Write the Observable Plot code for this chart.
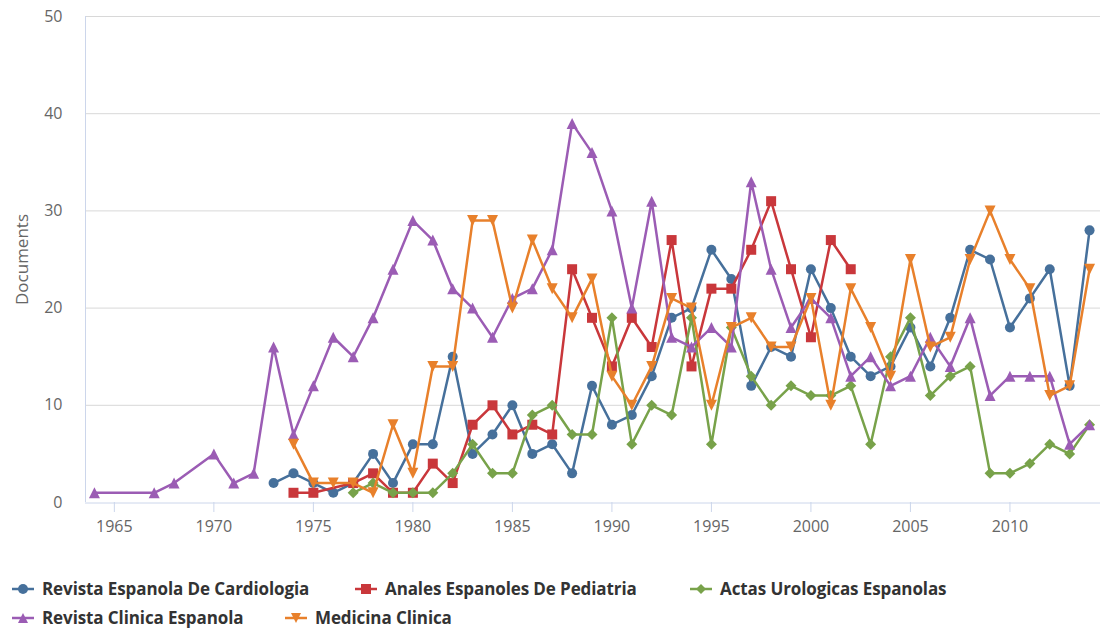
<!DOCTYPE html>
<html>
<head>
<meta charset="utf-8">
<script src="https://cdn.jsdelivr.net/npm/d3@7"></script>
<script src="https://cdn.jsdelivr.net/npm/@observablehq/plot@0.6"></script>
<style>
  body { margin: 0; background: #fff; font-family: "Open Sans", sans-serif; }
  #wrap { position: relative; width: 1103px; height: 628px; }
  #legend { position: absolute; left: 0; top: 0; width: 1103px; height: 620px; pointer-events: none; }
  .item { position: absolute; display: flex; align-items: center; font-weight: bold; font-size: 17px; line-height: 18px; color: #333; white-space: nowrap; letter-spacing: -0.1px; }
  .item svg { margin-right: 8px; }
</style>
</head>
<body>
<div id="wrap"><div id="chart"></div><div id="legend"></div></div>
<script>
const years = [1964,1965,1966,1967,1968,1969,1970,1971,1972,1973,
  1974,1975,1976,1977,1978,1979,1980,1981,1982,1983,
  1984,1985,1986,1987,1988,1989,1990,1991,1992,1993,
  1994,1995,1996,1997,1998,1999,2000,2001,2002,2003,
  2004,2005,2006,2007,2008,2009,2010,2011,2012,2013,2014];

const seriesNames = ["Revista Espanola De Cardiologia","Anales Espanoles De Pediatria","Actas Urologicas Espanolas","Revista Clinica Espanola","Medicina Clinica"];
const seriesColors = ["#46709b","#c9373b","#78a24a","#9b5cb4","#e8802b"];

const cardiologia = [null,null,null,null,null,null,null,null,null,2,
  3,2,1,2,5,2,6,6,15,5,
  7,10,5,6,3,12,8,9,13,19,
  20,26,23,12,16,15,24,20,15,13,
  14,18,14,19,26,25,18,21,24,12,28];
const pediatria = [null,null,null,null,null,null,null,null,null,null,
  1,1,null,2,3,1,1,4,2,8,
  10,7,8,7,24,19,14,19,16,27,
  14,22,22,26,31,24,17,27,24,null,
  null,null,null,null,null,null,null,null,null,null,null];
const urologicas = [null,null,null,null,null,null,null,null,null,null,
  null,null,null,1,2,1,1,1,3,6,
  3,3,9,10,7,7,19,6,10,9,
  19,6,18,13,10,12,11,11,12,6,
  15,19,11,13,14,3,3,4,6,5,8];
const clinicaEsp = [1,null,null,1,2,null,5,2,3,16,
  7,12,17,15,19,24,29,27,22,20,
  17,21,22,26,39,36,30,20,31,17,
  16,18,16,33,24,18,21,19,13,15,
  12,13,17,14,19,11,13,13,13,6,8];
const medicina = [null,null,null,null,null,null,null,null,null,null,
  6,2,2,2,1,8,3,14,14,29,
  29,20,27,22,19,23,13,10,14,21,
  20,10,18,19,16,16,21,10,22,18,
  13,25,16,17,25,30,25,22,11,12,24];

const xTicks = [1965,1970,1975,1980,1985,1990,1995,2000,2005,2010];
const yTicks = [0,10,20,30,40,50];

// Highcharts-like marker symbols
const symCircle = {draw(c, s){ const r = Math.sqrt(s/Math.PI); c.moveTo(r,0); c.arc(0,0,r,0,2*Math.PI); c.closePath(); }};
const symSquare = {draw(c, s){ const r = Math.sqrt(s/Math.PI); c.rect(-r,-r,2*r,2*r); }};
const symDiamond = {draw(c, s){ const r = Math.sqrt(s/Math.PI); c.moveTo(0,-r); c.lineTo(r,0); c.lineTo(0,r); c.lineTo(-r,0); c.closePath(); }};
const symTriUp = {draw(c, s){ const r = Math.sqrt(s/Math.PI); c.moveTo(0,-r); c.lineTo(r,r); c.lineTo(-r,r); c.closePath(); }};
const symTriDown = {draw(c, s){ const r = Math.sqrt(s/Math.PI); c.moveTo(-r,-r); c.lineTo(r,-r); c.lineTo(0,r); c.closePath(); }};

const allValues = [cardiologia, pediatria, urologicas, clinicaEsp, medicina];
const symbols = [symCircle, symSquare, symDiamond, symTriUp, symTriDown];
const radii = [5, 5, 5.5, 5.5, 5.5];

const tables = allValues.map(vals => years.map((y,i) => ({year: y, value: vals[i]})).filter(d => d.value != null));

const marks = [
  Plot.gridY(yTicks.filter(t => t > 0), {stroke: "#d8d8d8", strokeOpacity: 1}),
  Plot.ruleX([1963.55], {stroke: "#ccd6eb"}),
  Plot.ruleY([0], {stroke: "#ccd6eb", dy: 0.5}),
  Plot.axisX({ticks: xTicks, text: null, tickSize: 10, stroke: "#ccd6eb", label: null}),
  Plot.axisX({ticks: xTicks, tickFormat: d => String(d), tickSize: 0, tickPadding: 18, fill: "#666", fontSize: 16, label: null}),
  Plot.axisY({ticks: yTicks, tickSize: 0, tickPadding: 23, fill: "#666", fontSize: 16, label: null}),
  Plot.text(["Documents"], {frameAnchor: "left", textAnchor: "middle", dx: -63, rotate: -90, fill: "#666", fontSize: 17})
];
tables.forEach((t, k) => {
  marks.push(Plot.line(t, {x: "year", y: "value", stroke: seriesColors[k], strokeWidth: 2.5}));
  marks.push(Plot.dot(t, {x: "year", y: "value", fill: seriesColors[k], symbol: symbols[k], r: radii[k]}));
});

const chart = Plot.plot({
  width: 1103,
  height: 560,
  marginLeft: 85,
  marginRight: 3,
  marginTop: 16,
  marginBottom: 58,
  style: {fontFamily: "'Open Sans', sans-serif", fontSize: "16px", background: "#fff"},
  x: {domain: [1963.55, 2014.55], axis: null},
  y: {domain: [0, 50], axis: null},
  marks
});
document.getElementById("chart").appendChild(chart);

// Legend
const legendPos = [[12,589],[355,589],[690,589],[12,618],[285,618]];
const legend = document.getElementById("legend");
seriesNames.forEach((name, k) => {
  const item = document.createElement("div");
  item.className = "item";
  item.style.left = legendPos[k][0] + "px";
  item.style.top = (legendPos[k][1] - 9) + "px";
  item.style.height = "18px";
  const svg = d3.create("svg").attr("width", 22).attr("height", 14);
  svg.append("line").attr("x1", 0).attr("x2", 22).attr("y1", 7).attr("y2", 7).attr("stroke", seriesColors[k]).attr("stroke-width", 2.5);
  const p = d3.path();
  symbols[k].draw(p, Math.PI * 5 * 5);
  svg.append("path").attr("d", p.toString()).attr("transform", "translate(11,7)").attr("fill", seriesColors[k]);
  item.appendChild(svg.node());
  const span = document.createElement("span");
  span.textContent = name;
  item.appendChild(span);
  legend.appendChild(item);
});
</script>
</body>
</html>
